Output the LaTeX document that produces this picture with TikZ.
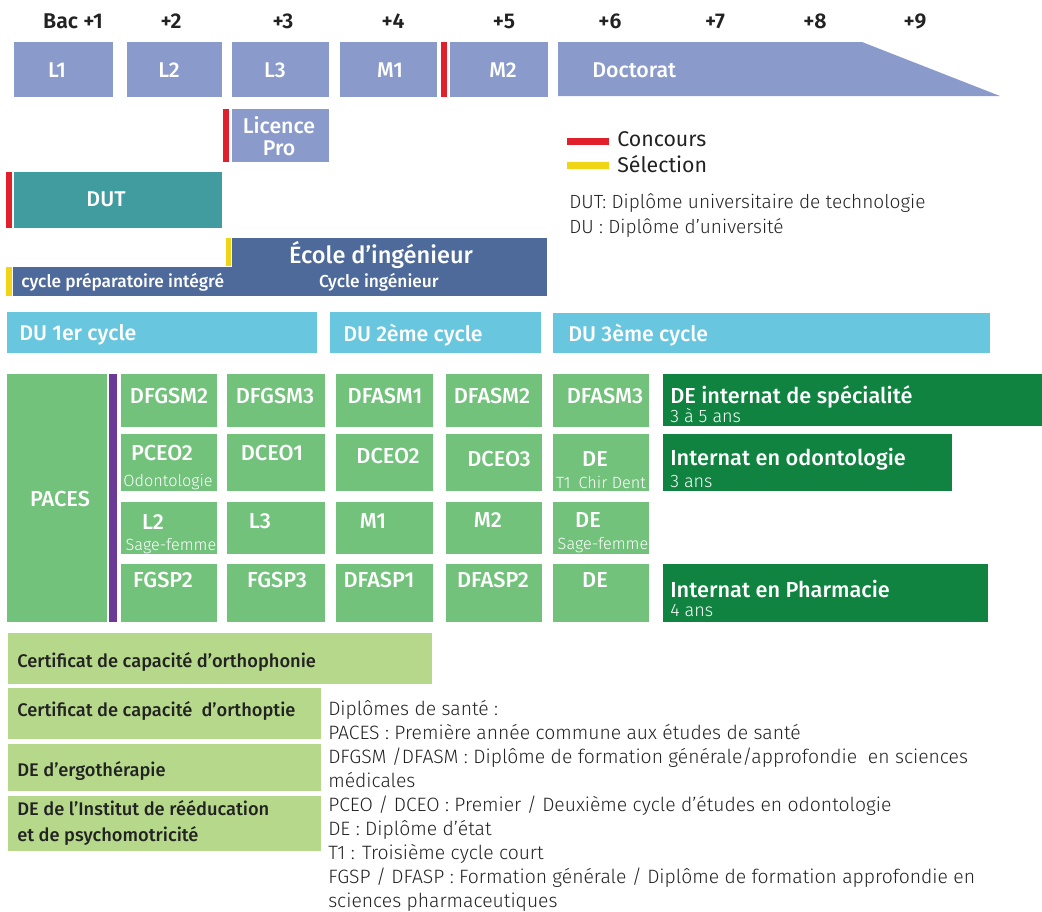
\documentclass[tikz,border=0pt]{standalone}
\usepackage{fontspec}
\setmainfont{Fira Sans}
\newfontfamily\light{Fira Sans Light}
\newfontfamily\semi{Fira Sans SemiBold}
\newfontfamily\med{Fira Sans Medium}
\definecolor{topblue}{RGB}{138,154,203}
\definecolor{teal}{RGB}{64,156,158}
\definecolor{ecole}{RGB}{78,106,154}
\definecolor{dublue}{RGB}{104,198,223}
\definecolor{lgreen}{RGB}{114,194,124}
\definecolor{dgreen}{RGB}{15,131,63}
\definecolor{olive}{RGB}{182,216,139}
\definecolor{cred}{RGB}{224,32,42}
\definecolor{cyellow}{RGB}{240,213,22}
\definecolor{purp}{RGB}{106,58,150}
\definecolor{ink}{RGB}{34,34,34}
\newcommand\bx[6]{\node[#6,minimum width={(#4-#2)*0.75pt},minimum height={(#5-#3)*0.75pt}] (#1) at ({(#2+#4)/2},{(#3+#5)/2}) {};}
\tikzset{
  box/.style={inner sep=0pt,outer sep=0pt,draw=none,rectangle},
  bar/.style={inner sep=0pt,outer sep=0pt,draw=none,rectangle},
  hdr/.style={text=ink,font=\semi\fontsize{16}{19}\selectfont},
  wlab/.style={text=white,font=\med\fontsize{16}{19}\selectfont,inner sep=0pt},
  wsub/.style={text=white,font=\light\fontsize{12.2}{14}\selectfont,inner sep=0pt},
  nsub/.style={text=white,font=\light\fontsize{13.5}{15}\selectfont,inner sep=0pt,anchor=west},
  glab/.style={text=white,font=\med\fontsize{16.3}{19}\selectfont,inner sep=0pt},
  klab/.style={text=ink,font=\med\fontsize{13.7}{20}\selectfont,inner sep=0pt,anchor=west,align=left},
  legtxt/.style={text=ink,font=\light\fontsize{14.5}{18}\selectfont,inner sep=0pt,anchor=west,align=left},
}
\begin{document}
\begin{tikzpicture}[x=0.75pt,y=-0.75pt]
\useasboundingbox (0,0) rectangle (1042,911);
% header
\node[hdr] (h1) at (73,21) {Bac +1};
\node[hdr] (h2) at (171,21) {+2};
\node[hdr] (h3) at (283,21) {+3};
\node[hdr] (h4) at (393,21) {+4};
\node[hdr] (h5) at (504,21) {+5};
\node[hdr] (h6) at (610,21) {+6};
\node[hdr] (h7) at (715,21) {+7};
\node[hdr] (h8) at (815,21) {+8};
\node[hdr] (h9) at (915,21) {+9};
% top row
\bx{l1}{14}{42}{113}{97}{box,fill=topblue}
\bx{l2}{127}{42}{222}{97}{box,fill=topblue}
\bx{l3}{232}{42}{329}{97}{box,fill=topblue}
\bx{m1}{340}{42}{437}{97}{box,fill=topblue}
\bx{rbar1}{441}{42}{447}{97}{bar,fill=cred}
\bx{m2}{450}{42}{548}{97}{box,fill=topblue}
\fill[topblue] (558,42) -- (862,42) -- (1000,96) -- (558,96) -- cycle;
\node[wlab] (tl1) at (57,70) {L1};
\node[wlab] (tl2) at (169,70) {L2};
\node[wlab] (tl3) at (275,70) {L3};
\node[wlab] (tm1) at (390,70) {M1};
\node[wlab] (tm2) at (503,70) {M2};
\node[wlab,anchor=west] (doct) at (592,70) {Doctorat};
% licence pro
\bx{lpro}{232}{109}{329}{162}{box,fill=topblue}
\bx{rbar2}{223}{109}{229}{162}{bar,fill=cred}
\node[wlab,align=center,font=\med\fontsize{16}{16.5}\selectfont] (tlpro) at (279,136) {Licence\\Pro};
% legend
\bx{legr}{567}{138}{609}{145}{bar,fill=cred}
\bx{legy}{567}{162}{609}{169}{bar,fill=cyellow}
\node[legtxt,font=\fontsize{16}{19}\selectfont] (tconc) at (617,139) {Concours};
\node[legtxt,font=\fontsize{16}{19}\selectfont] (tsel) at (617,164) {Sélection};
\node[legtxt,font=\light\fontsize{14.3}{18.75}\selectfont,anchor=north west] (tdut) at (569,193) {DUT: Diplôme universitaire de technologie\\DU : Diplôme d’université};
% DUT
\bx{dut}{14}{172}{222}{228}{box,fill=teal}
\bx{rbar3}{6}{172}{12}{228}{bar,fill=cred}
\node[wlab] (tdutl) at (106,199) {DUT};
% Ecole
\bx{ec1}{232}{238}{547}{268}{box,fill=ecole}
\bx{ec2}{13}{267}{547}{296}{box,fill=ecole}
\bx{ybar1}{226}{238}{231}{266}{bar,fill=cyellow}
\bx{ybar2}{6}{267}{12}{296}{bar,fill=cyellow}
\node[wlab,font=\med\fontsize{17.7}{21}\selectfont] (tec) at (381,255) {École d’ingénieur};
\node[wlab,font=\med\fontsize{13}{15}\selectfont,anchor=west] (tcpi) at (21,282) {cycle préparatoire intégré};
\node[wlab,font=\med\fontsize{13}{15}\selectfont] (tci) at (379,282) {Cycle ingénieur};
% DU
\bx{du1}{7}{312}{317}{353}{box,fill=dublue}
\bx{du2}{330}{312}{541}{353}{box,fill=dublue}
\bx{du3}{553}{313}{990}{353}{box,fill=dublue}
\node[wlab,anchor=west] (tdu1) at (19,335) {DU 1er cycle};
\node[wlab,anchor=west] (tdu2) at (343,335) {DU 2ème cycle};
\node[wlab,anchor=west] (tdu3) at (568,335) {DU 3ème cycle};
% Green grid
\bx{paces}{7}{374}{107}{622}{box,fill=lgreen}
\bx{purbar}{109}{374}{117}{622}{bar,fill=purp}
\node[glab] (tpaces) at (60,499) {PACES};
% row 1
\bx{g11}{121}{374}{217}{427}{box,fill=lgreen}
\bx{g12}{227}{374}{325}{427}{box,fill=lgreen}
\bx{g13}{336}{374}{433}{427}{box,fill=lgreen}
\bx{g14}{446}{374}{542}{427}{box,fill=lgreen}
\bx{g15}{553}{374}{649}{427}{box,fill=lgreen}
\bx{g16}{663}{374}{1042}{426}{box,fill=dgreen}
% row 2
\bx{g21}{121}{434}{217}{491}{box,fill=lgreen}
\bx{g22}{227}{434}{325}{491}{box,fill=lgreen}
\bx{g23}{336}{434}{433}{491}{box,fill=lgreen}
\bx{g24}{446}{434}{542}{491}{box,fill=lgreen}
\bx{g25}{553}{434}{649}{491}{box,fill=lgreen}
\bx{g26}{663}{434}{952}{491}{box,fill=dgreen}
% row 3
\bx{g31}{121}{502}{217}{554}{box,fill=lgreen}
\bx{g32}{227}{502}{325}{554}{box,fill=lgreen}
\bx{g33}{336}{502}{433}{554}{box,fill=lgreen}
\bx{g34}{446}{502}{542}{554}{box,fill=lgreen}
\bx{g35}{553}{502}{649}{554}{box,fill=lgreen}
% row 4
\bx{g41}{121}{564}{217}{622}{box,fill=lgreen}
\bx{g42}{227}{564}{325}{622}{box,fill=lgreen}
\bx{g43}{336}{564}{433}{622}{box,fill=lgreen}
\bx{g44}{446}{564}{542}{622}{box,fill=lgreen}
\bx{g45}{553}{564}{649}{622}{box,fill=lgreen}
\bx{g46}{663}{564}{988}{622}{box,fill=dgreen}
% labels row 1
\node[glab] (t11) at (169,396) {DFGSM2};
\node[glab] (t12) at (275,396) {DFGSM3};
\node[glab] (t13) at (385,396) {DFASM1};
\node[glab] (t14) at (492,396) {DFASM2};
\node[glab] (t15) at (605,396) {DFASM3};
\node[glab,anchor=west] (t16) at (670,397) {DE internat de spécialité};
\node[nsub] (s16) at (670,416) {3 à 5 ans};
% labels row 2
\node[glab] (t21) at (162,453) {PCEO2};
\node[wsub] (s21) at (168,482) {Odontologie};
\node[glab] (t22) at (272,453) {DCEO1};
\node[glab] (t23) at (388,456) {DCEO2};
\node[glab] (t24) at (499,459) {DCEO3};
\node[glab] (t25) at (595,459) {DE};
\node[wsub] (s25) at (601,482) {T1\enspace Chir Dent};
\node[glab,anchor=west] (t26) at (670,459) {Internat en odontologie};
\node[nsub] (s26) at (670,482) {3 ans};
% labels row 3
\node[glab] (t31) at (153,522) {L2};
\node[wsub] (s31) at (171,546) {Sage-femme};
\node[glab] (t32) at (260,521) {L3};
\node[glab] (t33) at (373,521) {M1};
\node[glab] (t34) at (488,520) {M2};
\node[glab] (t35) at (588,520) {DE};
\node[wsub] (s35) at (603,545) {Sage-femme};
% labels row 4
\node[glab] (t41) at (163,580) {FGSP2};
\node[glab] (t42) at (277,580) {FGSP3};
\node[glab] (t43) at (379,580) {DFASP1};
\node[glab] (t44) at (493,580) {DFASP2};
\node[glab] (t45) at (595,580) {DE};
\node[glab,anchor=west] (t46) at (670,589) {Internat en Pharmacie};
\node[nsub] (s46) at (670,611) {4 ans};
% bottom boxes
\bx{b1}{8}{633}{432}{684}{box,fill=olive}
\bx{b2}{8}{688}{321}{739}{box,fill=olive}
\bx{b3}{8}{744}{321}{791}{box,fill=olive}
\bx{b4}{8}{796}{321}{851}{box,fill=olive}
\node[klab] (tb1) at (17,662) {Certificat de capacité d’orthophonie};
\node[klab] (tb2) at (17,711) {Certificat de capacité\ \ d’orthoptie};
\node[klab] (tb3) at (17,771) {DE d’ergothérapie};
\node[klab] (tb4) at (17,823) {DE de l’Institut de rééducation\\et de psychomotricité};
% bottom legend
\node[legtxt,anchor=north west] (tleg) at (328,700) {Diplômes de santé :\\
PACES : Première année commune aux études de santé\\
DFGSM /DFASM : Diplôme de formation générale/approfondie\ \ en sciences\\
médicales\\
PCEO / DCEO : Premier / Deuxième cycle d’études en odontologie\\
DE : Diplôme d’état\\
T1 : Troisième cycle court\\
FGSP / DFASP : Formation générale / Diplôme de formation approfondie en\\
sciences pharmaceutiques};
\end{tikzpicture}
\end{document}
